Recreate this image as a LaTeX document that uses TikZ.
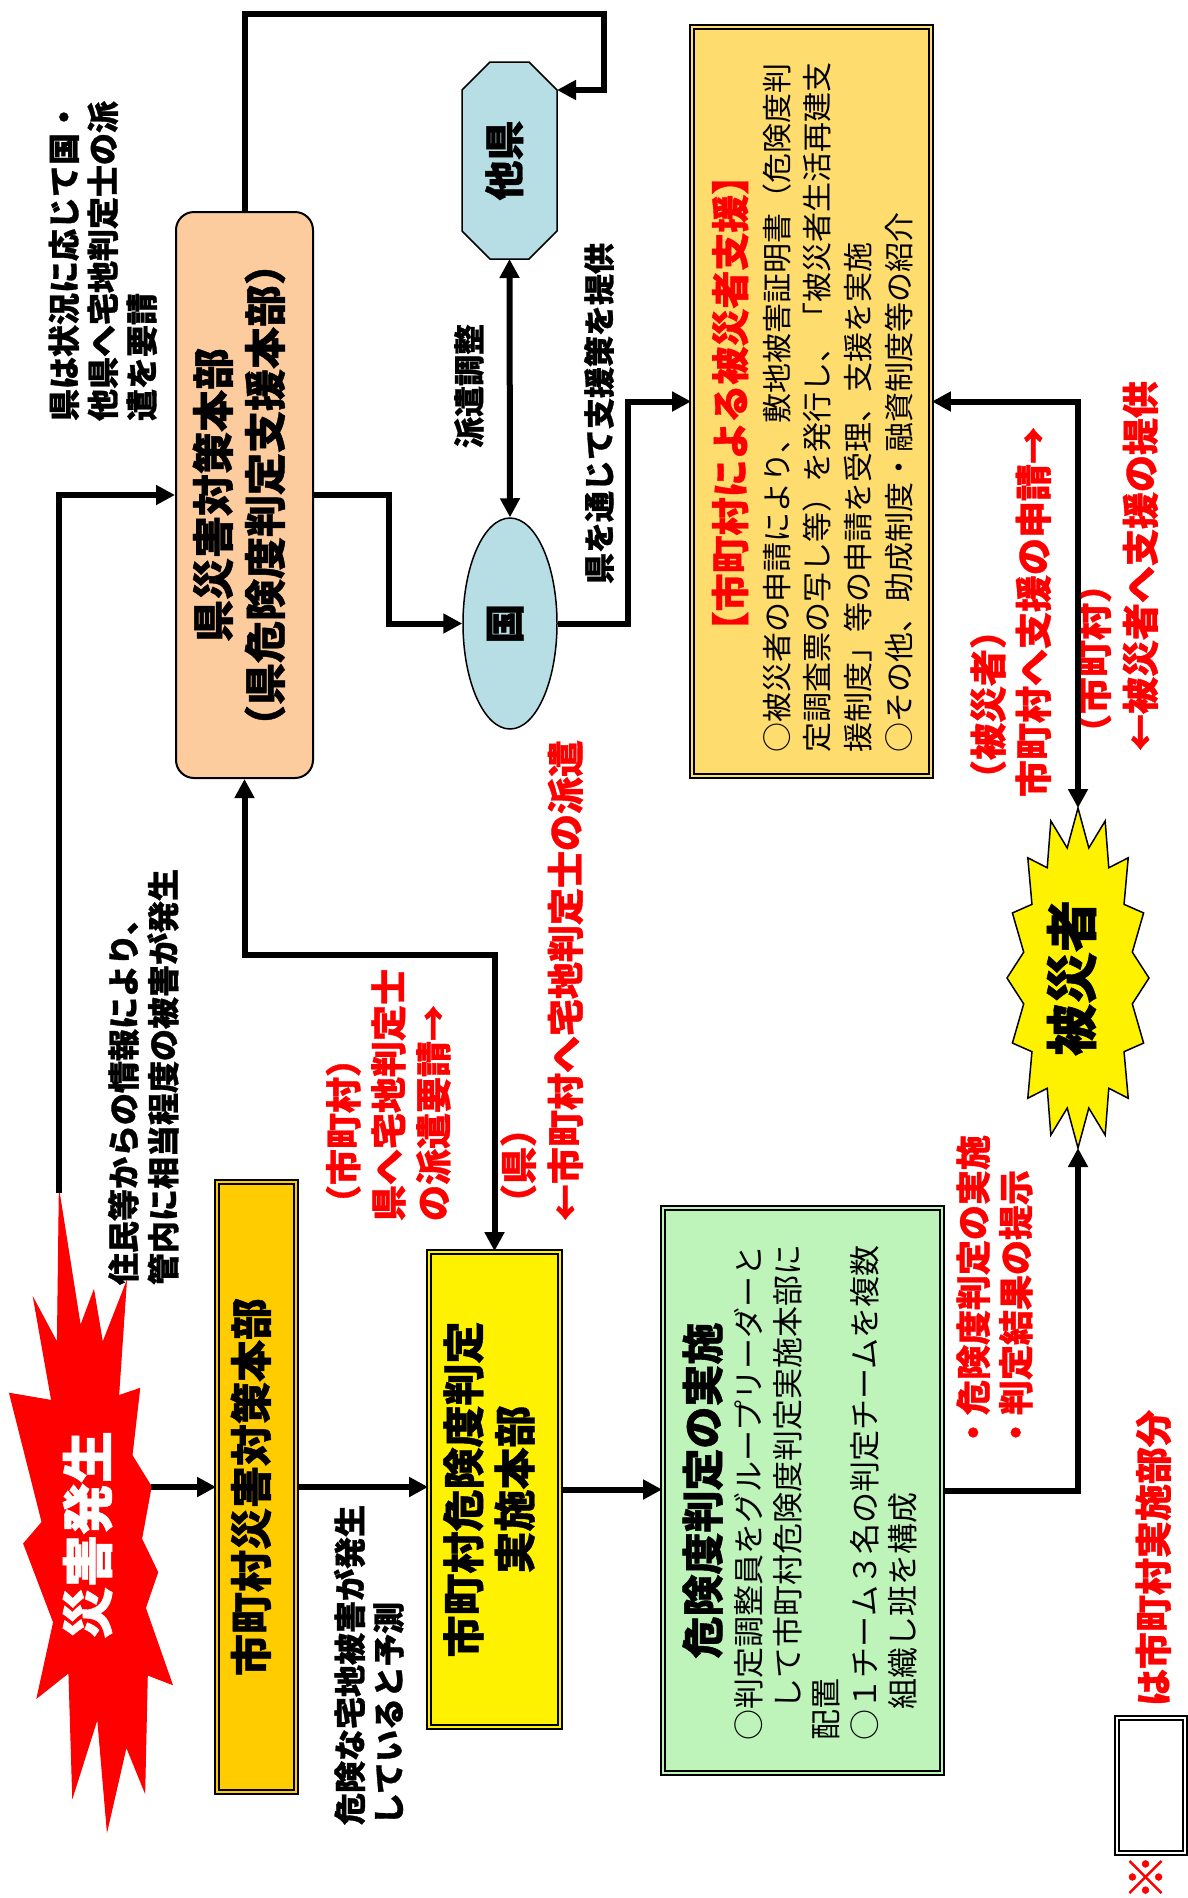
\documentclass[tikz,border=0pt]{standalone}
\usepackage{fontspec}
\setmainfont{Noto Sans CJK JP}[BoldFeatures={FakeBold=1}]
\usetikzlibrary{arrows.meta,shapes.geometric,calc}
\definecolor{peach}{RGB}{252,204,158}
\definecolor{gold}{RGB}{255,204,0}
\definecolor{goldlight}{RGB}{255,220,110}
\definecolor{mint}{RGB}{190,243,185}
\definecolor{lblue}{RGB}{183,222,228}
\newcommand\rotl[4]{\rotatebox{90}{\fontsize{#1}{#2}\selectfont\begin{tabular}{@{}#3@{}}#4\end{tabular}}}
\begin{document}
\begin{tikzpicture}[x=1pt,y=-1pt,
  lbl/.style={inner sep=0pt, outer sep=0pt, font=\bfseries},
  redlbl/.style={lbl, text=red},
  plain/.style={inner sep=0pt, outer sep=0pt},
  conn/.style={line width=6pt, line join=miter},
  arr/.style={conn, -{Triangle[length=19pt,width=19pt]}},
  darr/.style={conn, {Triangle[length=19pt,width=19pt]}-{Triangle[length=19pt,width=19pt]}},
  dbl/.style={draw=black, line width=1.8pt, double distance=2.6pt, inner sep=0pt},
]
\useasboundingbox (0,0) rectangle (1187,1898);
\fill[white] (0,0) rectangle (1187,1898);

% --- disaster star ---
\draw[fill=red, draw=red, line width=1pt]
 (59.3,1192.9) -- (80.4,1326.5) -- (93.8,1290.7) -- (102.6,1343.2) -- (126.3,1282.6)
 -- (118.6,1395.7) -- (139.7,1388.5) -- (132.0,1455.3) -- (151.2,1486.4) -- (141.6,1538.8)
 -- (157.7,1572.2) -- (145.4,1608.0) -- (172.2,1684.4) -- (147.3,1674.8) -- (144.7,1791.7)
 -- (126.3,1746.4) -- (107.2,1829.9) -- (97.6,1717.7) -- (72.7,1796.5) -- (68.9,1672.4)
 -- (37.1,1697.7) -- (53.6,1622.3) -- (23.7,1543.6) -- (42.1,1522.1) -- (9.6,1393.3)
 -- (51.7,1400.5) -- (33.7,1298.9) -- (57.4,1343.2) -- cycle;
\node[lbl, text=white] (saigai) at (94,1535) {\rotl{52}{60}{c}{災害発生}};
\coordinate (saigaiTop) at (59,1193);
\coordinate (saigaiRight) at (151,1487);

% --- boxes ---
\node[draw, line width=2pt, fill=peach, rounded corners=18pt, minimum width=137pt, minimum height=566pt, inner sep=0pt, font=\bfseries] (ken) at (244.5,495)
  {\rotl{42}{52}{c}{県災害対策本部\\（県危険度判定支援本部）}};

\node[dbl, double=gold, fill=gold, minimum width=79pt, minimum height=610pt, font=\bfseries] (shichoson) at (256.5,1487)
  {\rotl{42}{52}{c}{市町村災害対策本部}};

\node[dbl, double=yellow, fill=yellow, minimum width=131pt, minimum height=475pt, font=\bfseries] (jisshi) at (494.5,1489.5)
  {\rotl{42}{51}{c}{市町村危険度判定\\実施本部}};

\node[dbl, double=mint, fill=mint, minimum width=279pt, minimum height=565pt] (green) at (802.5,1490.5) {};
\node[lbl] (greentitle) at (708,1490.5) {\rotl{42}{50}{c}{危険度判定の実施}};
\node[plain, anchor=south] (greenbody) at (830,1740)
  {\rotl{31}{38.5}{l}{○判定調整員をグループリーダーと\\　して市町村危険度判定実施本部に\\配置\\○１チーム３名の判定チームを複数\\　組織し班を構成}};

\node[dbl, double=goldlight, fill=goldlight, minimum width=239pt, minimum height=749pt] (shien) at (811.5,401.5) {};
\node[redlbl] (shientitle) at (735,403) {\rotl{38}{45}{c}{【市町村による被災者支援】}};
\node[plain, anchor=south] (shienbody) at (841,752)
  {\rotl{30}{40.7}{l}{○被災者の申請により、敷地被害証明書（危険度判\\定調査票の写し等）を発行し、「被災者生活再建支\\援制度」等の申請を受理、支援を実施\\○その他、助成制度・融資制度等の紹介}};

% --- other prefecture (octagon) ---
\draw[fill=lblue, line width=1.5pt] (490,62) -- (529,62) -- (557,90) -- (557,231) -- (529,259) -- (490,259) -- (462,231) -- (462,90) -- cycle;
\node[lbl, minimum width=95pt, minimum height=197pt] (taken) at (509.5,160.5) {\rotl{40}{48}{c}{他県}};
\coordinate (takenNE) at (557,90);

% --- nation (ellipse) ---
\node[ellipse, draw, line width=1.5pt, fill=lblue, minimum width=94pt, minimum height=211pt, inner sep=0pt, font=\bfseries] (kuni) at (510,623.5) {\rotl{40}{48}{c}{国}};

% --- victims star ---
\draw[fill=yellow, line width=1.5pt] (1078,808)
  \foreach \k in {1,...,31}{ -- ({1078+71*(1-0.22*mod(\k,2))*sin(\k*11.25)}, {978-170*(1-0.22*mod(\k,2))*cos(\k*11.25)}) } -- cycle;
\node[lbl, minimum width=142pt, minimum height=340pt] (hisaisha) at (1078,978) {\rotl{52}{60}{c}{被災者}};

% --- legend ---
\node[dbl, double=white, fill=white, minimum width=68pt, minimum height=135pt] (legend) at (1151,1785.5) {};
\node[redlbl] (kome) at (1153,1877) {\rotl{46}{50}{c}{※}};
\node[redlbl, anchor=south] (legendtxt) at (1158,1706) {\rotl{37}{44}{l}{は市町村実施部分}};

% --- labels ---
\node[lbl, anchor=south] (l1) at (107,421) {\rotl{32}{38.5}{l}{県は状況に応じて国・\\他県へ宅地判定士の派\\遣を要請}};
\node[lbl, anchor=south] (l2) at (147.5,1285) {\rotl{32}{39}{l}{住民等からの情報により、\\管内に相当程度の被害が発生}};
\node[lbl, anchor=south] (l3) at (373,1825) {\rotl{32}{38}{l}{危険な宅地被害が発生\\していると予測}};
\node[redlbl, anchor=south] (l4) at (393,1221) {\rotl{36}{45}{l}{（市町村）\\県へ宅地判定士\\の派遣要請→}};
\node[redlbl, anchor=south] (l5) at (546.5,1221) {\rotl{37}{47}{l}{（県）\\←市町村へ宅地判定士の派遣}};
\node[lbl, anchor=south] (l6) at (473,448) {\rotl{31}{37}{l}{派遣調整}};
\node[lbl, anchor=south] (l7) at (603,584) {\rotl{31}{37}{l}{県を通じて支援策を提供}};
\node[redlbl, anchor=south] (l8) at (1015.5,797) {\rotl{37}{45}{l}{（被災者）\\市町村へ支援の申請→}};
\node[redlbl, anchor=south] (l9) at (1121.5,751) {\rotl{37}{47}{l}{（市町村）\\←被災者へ支援の提供}};
\node[redlbl, anchor=south] (l10) at (999,1450) {\rotl{35}{42}{l}{・危険度判定の実施\\・判定結果の提示}};

% --- connectors ---
\draw[arr] (saigaiTop) |- (ken.west);
\draw[arr] (saigaiRight) -- (saigaiRight -| shichoson.west);
\draw[arr] (shichoson.east) -- (shichoson.east -| jisshi.west);
\draw[arr] (jisshi.east) -- (jisshi.east -| green.west);
\draw[arr] (green.east) -| (hisaisha.south);
\draw[darr] (ken.south) -- ++(0,176) -| (jisshi.north);
\draw[arr] (ken.east) -- ++(75,0) |- (kuni.west);
\draw[arr] (ken.north) |- (604,14) |- (takenNE);
\draw[darr] (kuni.north) -- (taken.south);
\draw[arr] (kuni.east) -- ++(70,0) |- (shien.west);
\draw[darr] (shien.east) -| (hisaisha.north);
\end{tikzpicture}
\end{document}
